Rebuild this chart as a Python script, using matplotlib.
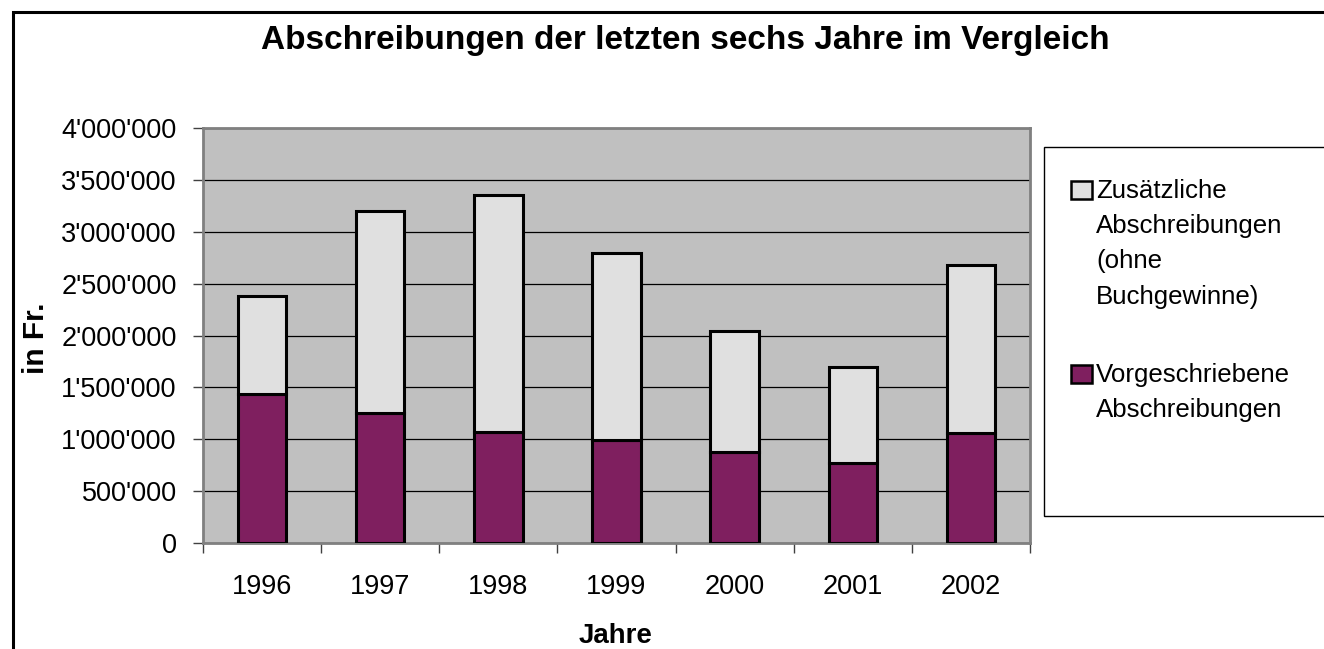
import matplotlib
matplotlib.use("Agg")
import matplotlib.pyplot as plt
from matplotlib.patches import Rectangle
from matplotlib.ticker import FuncFormatter, FixedLocator

plt.rcParams["font.family"] = ["Liberation Sans", "DejaVu Sans"]

years = ["1996", "1997", "1998", "1999", "2000", "2001", "2002"]
vorgeschrieben = [1435000, 1249000, 1072000, 988000, 877000, 774000, 1060000]
total = [2376000, 3204000, 3356000, 2794000, 2045000, 1692000, 2675000]
zusaetzlich = [t - v for t, v in zip(total, vorgeschrieben)]

label_zus = "Zusätzliche\nAbschreibungen\n(ohne\nBuchgewinne)"
label_vor = "Vorgeschriebene\nAbschreibungen"

PURPLE = "#7F1F5F"
LIGHT = "#E0E0E0"
PLOT_BG = "#C0C0C0"

W, H = 1324, 649
fig = plt.figure(figsize=(W / 100, H / 100), dpi=100)


def fx(px):
    return px / W


def fy(py):
    return 1 - py / H


# outer chart frame (runs off the right and bottom edge)
fig.add_artist(Rectangle((fx(13), fy(700)), fx(1400), fy(12) - fy(700),
                         transform=fig.transFigure, fill=False,
                         edgecolor="black", linewidth=2.2))

ax = fig.add_axes([fx(203), fy(543), fx(1030) - fx(203), fy(128) - fy(543)])
ax.set_facecolor(PLOT_BG)
ax.set_axisbelow(True)

x = list(range(len(years)))
ax.bar(x, vorgeschrieben, width=0.41, color=PURPLE, edgecolor="black",
       linewidth=2.2, zorder=3)
ax.bar(x, zusaetzlich, bottom=vorgeschrieben, width=0.41, color=LIGHT,
       edgecolor="black", linewidth=2.2, zorder=3)

ax.set_xlim(-0.5, len(years) - 0.5)
ax.set_ylim(0, 4000000)
ax.yaxis.set_major_locator(FixedLocator(range(0, 4000001, 500000)))
ax.yaxis.set_major_formatter(
    FuncFormatter(lambda v, p: f"{int(v):,}".replace(",", "'")))
ax.grid(axis="y", color="black", linewidth=0.9, zorder=1)

ax.set_xticks(x)
ax.set_xticklabels(years)
ax.xaxis.set_minor_locator(FixedLocator([i - 0.5 for i in range(len(years) + 1)]))
ax.tick_params(axis="x", which="major", length=0, pad=22, labelsize=19.5)
ax.tick_params(axis="x", which="minor", length=7, width=1, color="#404040",
               direction="out")
ax.tick_params(axis="y", length=7, width=1, color="#404040", direction="out",
               pad=12, labelsize=19.5)

for side in ["left", "right", "top", "bottom"]:
    ax.spines[side].set_color("#808080")
    ax.spines[side].set_linewidth(2)

fig.text(fx(685), fy(40), "Abschreibungen der letzten sechs Jahre im Vergleich",
         ha="center", va="center", fontsize=24, fontweight="bold")
fig.text(fx(616), fy(636), "Jahre", ha="center", va="center",
         fontsize=20, fontweight="bold")
fig.text(fx(36), fy(338), "in Fr.", ha="center", va="center", rotation=90,
         fontsize=21.5, fontweight="bold")

# legend
fig.add_artist(Rectangle((fx(1044), fy(516)), fx(1400) - fx(1044), fy(147) - fy(516),
                         transform=fig.transFigure, facecolor="white",
                         edgecolor="black", linewidth=1))
for (top_px, color, label) in [(181, LIGHT, label_zus), (365, PURPLE, label_vor)]:
    fig.add_artist(Rectangle((fx(1071), fy(top_px + 18)), fx(21), fy(0) - fy(18),
                             transform=fig.transFigure, facecolor=color,
                             edgecolor="black", linewidth=1.8))
    fig.text(fx(1096), fy(top_px - 2), label, ha="left", va="top",
             fontsize=18.6, linespacing=1.59)

fig.savefig("out.png", dpi=100)
